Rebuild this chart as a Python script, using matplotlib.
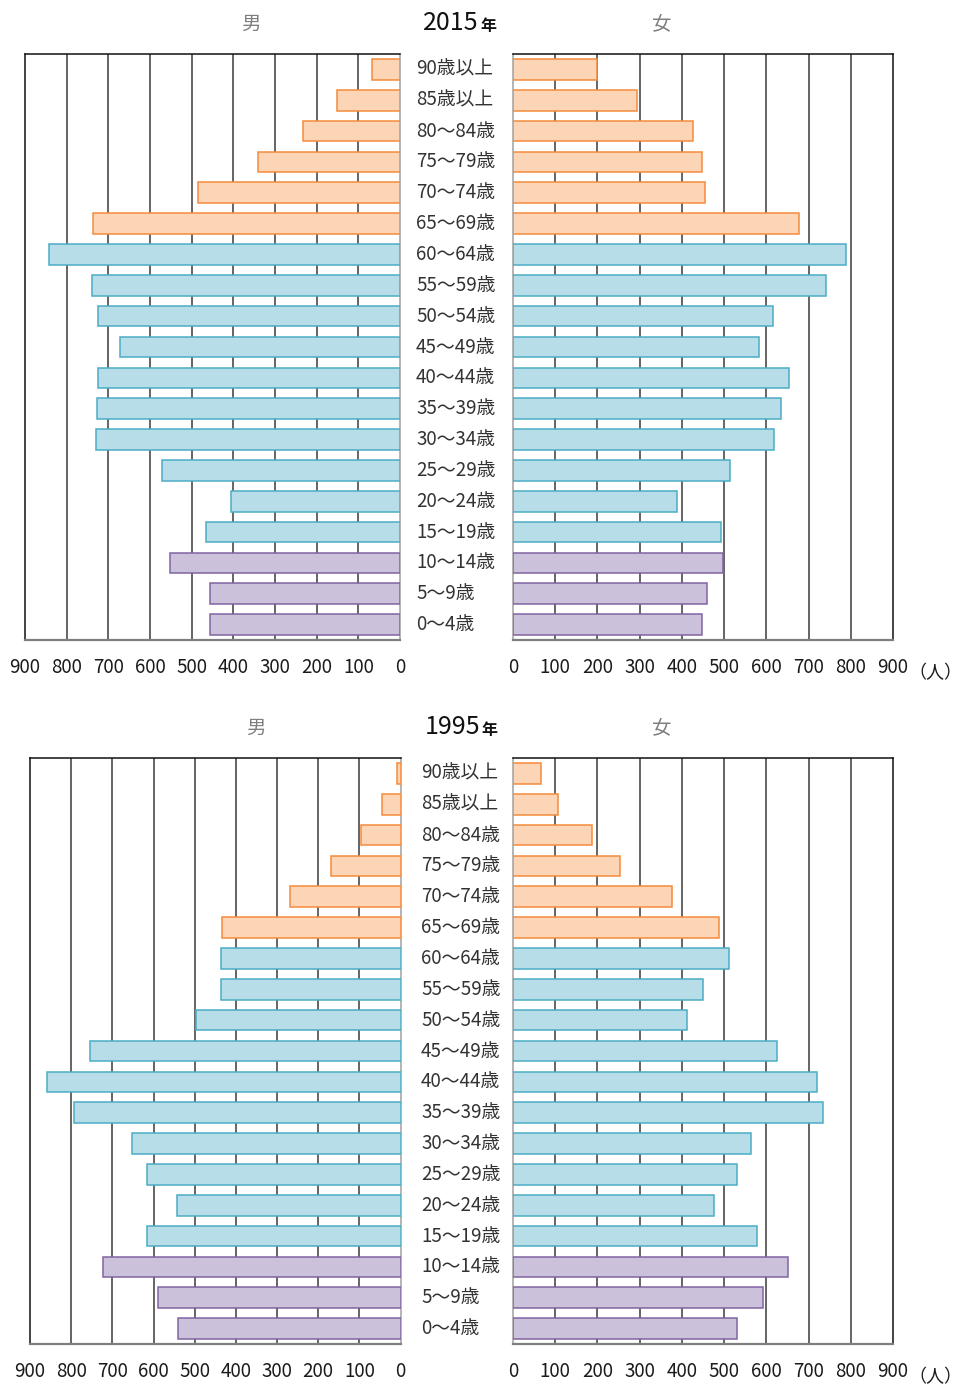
import matplotlib
matplotlib.use("Agg")
import matplotlib.pyplot as plt

plt.rcParams['font.family'] = ['Noto Sans CJK JP', 'DejaVu Sans']

ages = ["90歳以上", "85歳以上", "80～84歳", "75～79歳", "70～74歳", "65～69歳",
        "60～64歳", "55～59歳", "50～54歳", "45～49歳", "40～44歳", "35～39歳",
        "30～34歳", "25～29歳", "20～24歳", "15～19歳", "10～14歳", "5～9歳", "0～4歳"]
groups = ["old"] * 6 + ["work"] * 10 + ["young"] * 3

male_2015 = [67, 152, 233, 340, 485, 736, 842, 739, 724, 671, 724, 727, 729, 571, 405, 466, 553, 457, 457]
female_2015 = [198, 294, 426, 447, 454, 677, 788, 741, 616, 582, 653, 635, 618, 513, 389, 493, 498, 459, 447]
male_1995 = [8, 45, 96, 169, 268, 433, 436, 435, 497, 754, 859, 792, 652, 615, 542, 615, 723, 589, 540]
female_1995 = [66, 107, 188, 254, 377, 489, 511, 449, 411, 625, 721, 735, 563, 531, 475, 579, 651, 593, 531]

ticks = [0, 100, 200, 300, 400, 500, 600, 700, 800, 900]

fills = {"old": "#FBD5B5", "work": "#B7DDE8", "young": "#CCC1DA"}
edges = {"old": "#F58B3C", "work": "#4BACC6", "young": "#8064A2"}

W, H = 963, 1385
fig = plt.figure(figsize=(W / 100, H / 100), dpi=100)


def px_axes(x0, y0, x1, y1):
    return fig.add_axes([x0 / W, 1 - y1 / H, (x1 - x0) / W, (y1 - y0) / H])


def panel(ax, values, left):
    n = len(values)
    ys = [n - 1 - i for i in range(n)]
    ax.barh(ys, values, height=0.67,
            color=[fills[g] for g in groups],
            edgecolor=[edges[g] for g in groups], linewidth=1.1, zorder=3)
    ax.set_ylim(-0.5, n - 0.5)
    if left:
        ax.set_xlim(900, 0)
    else:
        ax.set_xlim(0, 900)
    ax.set_xticks(ticks)
    ax.set_xticklabels([str(t) for t in ticks], fontsize=13.5, color="#1a1a1a")
    ax.set_yticks([])
    ax.tick_params(axis="x", length=0, pad=12)
    for t in ticks[1:-1]:
        ax.axvline(t, color="#3a3a3a", lw=1.1, zorder=1)
    for s in ["top", "left", "right"]:
        ax.spines[s].set_color("#111111")
        ax.spines[s].set_linewidth(1.1)
    ax.spines["bottom"].set_color("#7f7f7f")
    ax.spines["bottom"].set_linewidth(1.6)
    inner = "right" if left else "left"
    ax.spines[inner].set_color("#a0a0a0")


def fig_text(x, y, s, **kw):
    fig.text(x / W, 1 - y / H, s, **kw)


def pyramid(male, female, year, top, label_x, lx0, year_x):
    axl = px_axes(lx0, top, 400 + (lx0 - 25) * 0.1, top + 586)
    axr = px_axes(513, top, 893, top + 586)
    panel(axl, male, True)
    panel(axr, female, False)
    fig_text(lx0 + 226, top - 30, "男", fontsize=14, color="#7f7f7f", ha="center", va="center")
    fig_text(662, top - 30, "女", fontsize=14, color="#7f7f7f", ha="center", va="center")
    fig_text(year_x, top - 31, year, fontsize=18, color="#111111", ha="right", va="center")
    fig_text(year_x + 1, top - 28, "年", fontsize=11.5, color="#111111", ha="left",
             va="center", fontweight="bold")
    row = 586 / len(ages)
    for i, a in enumerate(ages):
        fig_text(label_x, top + row * (i + 0.5), a, fontsize=13.5, color="#333333",
                 ha="left", va="center")
    fig_text(962, top + 619, "（人）", fontsize=13, color="#1a1a1a", ha="right", va="center")


pyramid(male_2015, female_2015, "2015", 54, 416, 25, 479)
pyramid(male_1995, female_1995, "1995", 758, 421, 30, 480)

fig.savefig("out.png", dpi=100)
